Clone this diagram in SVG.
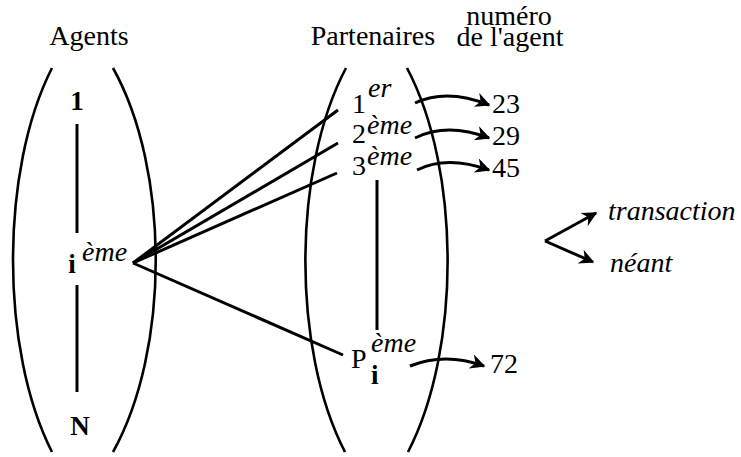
<svg xmlns="http://www.w3.org/2000/svg" width="741" height="457" viewBox="0 0 741 457" font-family="'Liberation Serif', serif">
<style>
text{font-family:'Liberation Serif',serif;fill:#000;font-size:28px}
.b{font-weight:bold;font-size:27px}
.it{font-style:italic}
.arc{fill:none;stroke:#000;stroke-width:2.6}
.ln{fill:none;stroke:#000;stroke-width:3}
.ar{fill:none;stroke:#000;stroke-width:3;marker-end:url(#ah)}
</style>
<defs>
<marker id="ah" viewBox="0 0 10 10" refX="9" refY="5" markerWidth="5" markerHeight="5" orient="auto" markerUnits="strokeWidth">
<path d="M0,0 L10,5 L0,10 L3,5 Z" fill="#000"/>
</marker>
</defs>
<rect width="741" height="457" fill="#fff"/>
<g id="agents">
<text x="89" y="45" text-anchor="middle">Agents</text>
<path class="arc" d="M52,68 C0,170 0,350 52,452"/>
<path class="arc" d="M113,68 C170,170 170,350 113,452"/>
<text class="b" x="77" y="110" text-anchor="middle">1</text>
<line class="ln" x1="77" y1="124" x2="77" y2="233"/>
<text class="b" x="72" y="273" text-anchor="middle">i</text>
<text class="it" x="82" y="261">ème</text>
<line class="ln" x1="77" y1="285" x2="77" y2="392"/>
<text class="b" x="80" y="435" text-anchor="middle">N</text>
</g>
<g id="partenaires">
<text x="373" y="45" text-anchor="middle">Partenaires</text>
<path class="arc" d="M346,68 C292,170 292,350 345,452"/>
<path class="arc" d="M407,68 C461,170 461,350 408,452"/>
<text x="352" y="113">1</text><text class="it" x="368" y="97">er</text>
<text x="352" y="143">2</text><text class="it" x="367" y="134">ème</text>
<text x="352" y="175">3</text><text class="it" x="367" y="165">ème</text>
<line class="ln" x1="377" y1="180" x2="377" y2="330"/>
<text x="351" y="368">P</text><text class="b" x="371" y="384">i</text><text class="it" x="371" y="352">ème</text>
</g>
<g id="numeros">
<text x="509" y="25" text-anchor="middle">numéro</text>
<text x="510" y="46" text-anchor="middle">de l'agent</text>
<text x="492" y="113">23</text>
<text x="492" y="145">29</text>
<text x="492" y="177">45</text>
<text x="490" y="373">72</text>
</g>
<g id="issues">
<text class="it" x="608" y="220">transaction</text>
<text class="it" x="610" y="272">néant</text>
</g>
<g id="connectors">
<line class="ln" x1="133" y1="263" x2="338" y2="110"/>
<line class="ln" x1="133" y1="263" x2="338" y2="143"/>
<line class="ln" x1="133" y1="263" x2="337" y2="173"/>
<line class="ln" x1="133" y1="263" x2="343" y2="355"/>
<path class="ar" d="M415,103 Q447,88 489,105"/>
<path class="ar" d="M415,138 Q447,122 489,138"/>
<path class="ar" d="M417,170 Q447,155 489,170"/>
<path class="ar" d="M410,366 Q445,352 484,366"/>
<path class="ar" d="M545,241 L596,213"/>
<path class="ar" d="M545,241 L593,262"/>
</g>
</svg>
